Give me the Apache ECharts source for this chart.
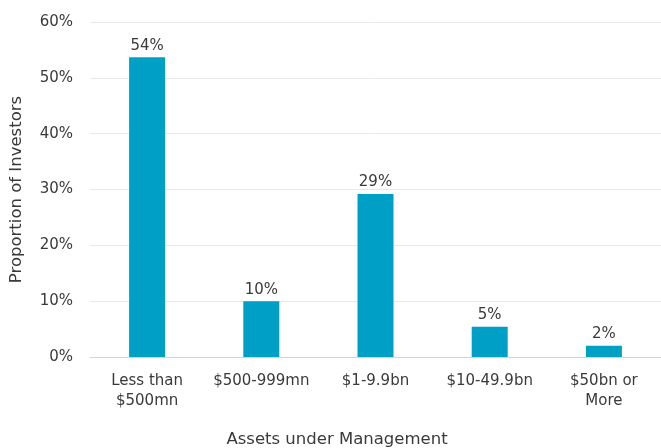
<!DOCTYPE html>
<html>
<head>
<meta charset="utf-8">
<script src="https://cdn.jsdelivr.net/npm/echarts@6/dist/echarts.min.js"></script>
<style>
  html, body { margin: 0; padding: 0; background: #fff; }
  #chart { width: 661px; height: 448px; }
</style>
</head>
<body>
<div id="chart"></div>
<script>
// Investor share by assets under management
const categories = ['Less than\n$500mn', '$500-999mn', '$1-9.9bn', '$10-49.9bn', '$50bn or\nMore'];
const shares = [53.7, 10.0, 29.2, 5.4, 2.0];
const yTicks = [0, 10, 20, 30, 40, 50, 60];

const FONT = '"DejaVu Sans", sans-serif';
const TEXT = '#3a3a3a';

const chart = echarts.init(document.getElementById('chart'));
chart.setOption({
  animation: false,
  grid: { left: 88, top: 22, width: 574, height: 335, containLabel: false },
  xAxis: {
    type: 'category',
    data: categories,
    axisLine: { lineStyle: { color: '#d4d4d4', width: 1 } },
    axisTick: { show: false },
    axisLabel: { interval: 0, color: TEXT, fontFamily: FONT, fontSize: 15, lineHeight: 20, margin: 14 }
  },
  yAxis: {
    type: 'value',
    min: yTicks[0],
    max: yTicks[yTicks.length - 1],
    interval: 10,
    name: 'Proportion of Investors',
    nameLocation: 'middle',
    nameRotate: 90,
    nameGap: 65,
    nameTextStyle: { color: TEXT, fontFamily: FONT, fontSize: 16.5 },
    axisLine: { show: false },
    axisTick: { show: false },
    splitLine: { lineStyle: { color: '#e8e8e8', width: 1 } },
    axisLabel: { color: TEXT, fontFamily: FONT, fontSize: 15, margin: 17, formatter: v => v + '%' }
  },
  graphic: [{
    type: 'text',
    x: 337, y: 440,
    style: { text: 'Assets under Management', fill: TEXT, font: '16.5px ' + FONT, textAlign: 'center', textVerticalAlign: 'middle' }
  }],
  series: [{
    type: 'bar',
    data: shares,
    barWidth: 36,
    itemStyle: { color: '#00A0C6' },
    label: {
      show: true,
      position: 'top',
      distance: 4,
      color: TEXT,
      fontFamily: FONT,
      fontSize: 15,
      formatter: p => Math.round(p.value) + '%'
    }
  }]
});
</script>
</body>
</html>
